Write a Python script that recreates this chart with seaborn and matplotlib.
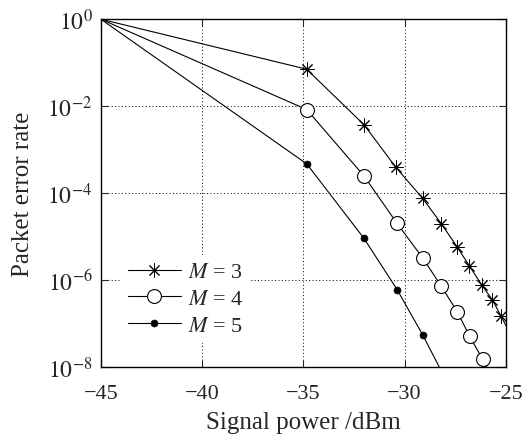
import numpy as np
import pandas as pd
import matplotlib
matplotlib.use("Agg")
import matplotlib.pyplot as plt
import seaborn as sns

# ---- data ----
x_m3 = [-45, -34.84, -32.0, -30.43, -29.11, -28.18, -27.39, -26.81, -26.2, -25.66, -25.25, -24.9]
y_m3 = [1.0, 10**-1.15, 10**-2.43, 10**-3.41, 10**-4.12, 10**-4.71, 10**-5.25, 10**-5.67,
        10**-6.11, 10**-6.46, 10**-6.82, 10**-7.13]
x_m4 = [-45, -34.83, -32.0, -30.37, -29.11, -28.18, -27.39, -26.78, -26.15, -25.66]
y_m4 = [1.0, 10**-2.08, 10**-3.61, 10**-4.70, 10**-5.49, 10**-6.15, 10**-6.74, 10**-7.30,
        10**-7.82, 10**-8.24]
x_m5 = [-45, -34.83, -32.01, -30.37, -29.11, -28.18]
y_m5 = [1.0, 10**-3.33, 10**-5.04, 10**-6.22, 10**-7.26, 10**-8.1]
labels = ["$M$ = 3", "$M$ = 4", "$M$ = 5"]
xticks = [-45, -40, -35, -30, -25]
xticklabels = ["\u221245", "\u221240", "\u221235", "\u221230", "\u221225"]
yticks = [1e0, 1e-2, 1e-4, 1e-6, 1e-8]
yticklabels = [r"$10^{0}$", r"$10^{-2}$", r"$10^{-4}$", r"$10^{-6}$", r"$10^{-8}$"]

df = pd.concat([
    pd.DataFrame({"x": x_m3, "y": y_m3, "s": labels[0]}),
    pd.DataFrame({"x": x_m4, "y": y_m4, "s": labels[1]}),
    pd.DataFrame({"x": x_m5, "y": y_m5, "s": labels[2]}),
])

sns.set_style("ticks")
plt.rcParams["font.family"] = ["Liberation Serif", "DejaVu Serif"]
plt.rcParams["mathtext.fontset"] = "stix"
plt.rcParams["xtick.direction"] = "in"
plt.rcParams["ytick.direction"] = "in"

fig = plt.figure(figsize=(5.28, 4.39), dpi=100)
ax = fig.add_axes([0.191, 0.162, 0.767, 0.792])

styles = {
    labels[0]: dict(marker=(8, 2, 0), markersize=10, markerfacecolor="black", markeredgewidth=0.7),
    labels[1]: dict(marker="o", markersize=10, markerfacecolor="white", markeredgewidth=0.8),
    labels[2]: dict(marker="o", markersize=5, markerfacecolor="black", markeredgewidth=0.5),
}
for lab in labels:
    sub = df[df["s"] == lab]
    n = len(sub)
    sns.lineplot(data=sub, x="x", y="y", ax=ax, color="black", linewidth=0.8,
                 markeredgecolor="black", label=lab, sort=False, estimator=None,
                 markevery=list(range(1, n - 1 if lab == labels[0] else n)),
                 **styles[lab])

ax.set_yscale("log")
ax.set_xlim(-45, -25)
ax.set_ylim(1e-8, 1e0)
ax.set_xticks(xticks)
ax.set_xticklabels(xticklabels)
ax.set_yticks(yticks)
ax.set_yticklabels(yticklabels)
ax.yaxis.set_minor_locator(matplotlib.ticker.NullLocator())
ax.tick_params(axis="x", which="major", labelsize=16, length=5, width=0.8,
               top=True, pad=12)
ax.tick_params(axis="y", which="major", labelsize=17, length=5, width=0.8,
               right=True, pad=6)
ax.grid(True, which="major", color="black", linestyle=(0, (1, 2.5)), linewidth=0.7)
for sp in ax.spines.values():
    sp.set_linewidth(1.0)
    sp.set_color("black")

ax.set_xlabel("Signal power /dBm", fontsize=18)
ax.set_ylabel("Packet error rate", fontsize=18)
ax.xaxis.set_label_coords(0.5, -0.128)
ax.yaxis.set_label_coords(-0.165, 0.5)

leg = ax.legend(loc="lower left", bbox_to_anchor=(0.05, 0.07), frameon=True, fontsize=16,
                handlelength=2.4, handletextpad=0.3, labelspacing=0.28, borderpad=0.3,
                borderaxespad=0.0)
leg.get_frame().set_edgecolor("none")
leg.get_frame().set_facecolor("white")
leg.get_frame().set_alpha(1.0)
leg.get_frame().set_boxstyle("square", pad=0)

fig.savefig("out.png", dpi=100)
